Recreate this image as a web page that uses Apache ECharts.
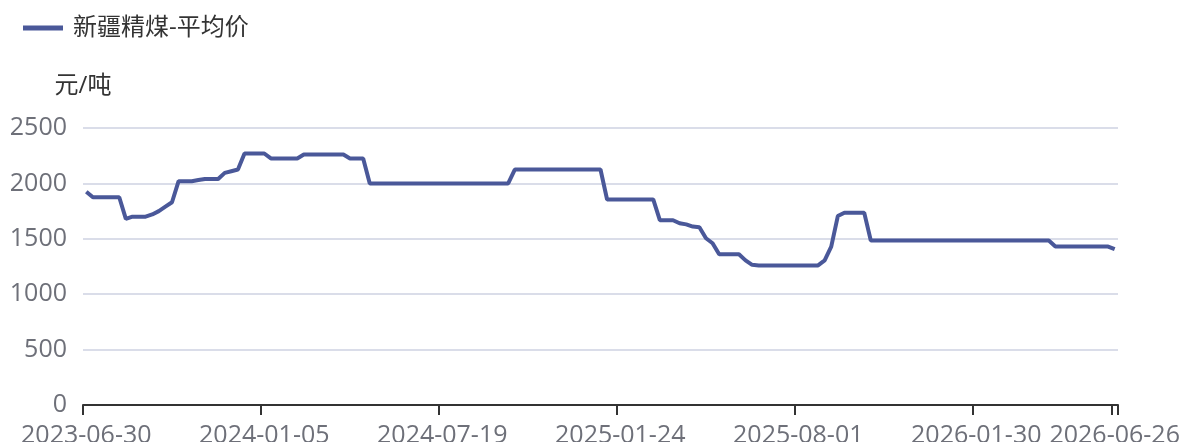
<!DOCTYPE html>
<html>
<head>
<meta charset="utf-8">
<title>新疆精煤-平均价</title>
<script src="https://cdn.jsdelivr.net/npm/echarts@6.0.0/dist/echarts.min.js"></script>
<style>
  html, body { margin: 0; padding: 0; background: #fff; }
  #chart { width: 1184px; height: 442px; }
</style>
</head>
<body>
<div id="chart"></div>
<script>
// 周度日期
const dates = [
  '2023-06-30', '2023-07-07', '2023-07-14', '2023-07-21', '2023-07-28', '2023-08-04', '2023-08-11', '2023-08-18', '2023-08-25',
  '2023-09-01', '2023-09-08', '2023-09-15', '2023-09-22', '2023-09-29', '2023-10-06', '2023-10-13', '2023-10-20', '2023-10-27',
  '2023-11-03', '2023-11-10', '2023-11-17', '2023-11-24', '2023-12-01', '2023-12-08', '2023-12-15', '2023-12-22', '2023-12-29',
  '2024-01-05', '2024-01-12', '2024-01-19', '2024-01-26', '2024-02-02', '2024-02-09', '2024-02-23', '2024-03-01', '2024-03-08',
  '2024-03-15', '2024-03-22', '2024-03-29', '2024-04-05', '2024-04-12', '2024-04-19', '2024-04-26', '2024-05-03', '2024-05-10',
  '2024-05-17', '2024-05-24', '2024-05-31', '2024-06-07', '2024-06-14', '2024-06-21', '2024-06-28', '2024-07-05', '2024-07-12',
  '2024-07-19', '2024-07-26', '2024-08-02', '2024-08-09', '2024-08-16', '2024-08-23', '2024-08-30', '2024-09-06', '2024-09-13',
  '2024-09-20', '2024-09-27', '2024-10-04', '2024-10-11', '2024-10-18', '2024-10-25', '2024-11-01', '2024-11-08', '2024-11-15',
  '2024-11-22', '2024-11-29', '2024-12-06', '2024-12-13', '2024-12-20', '2024-12-27', '2025-01-03', '2025-01-10', '2025-01-17',
  '2025-01-24', '2025-01-31', '2025-02-07', '2025-02-14', '2025-02-21', '2025-02-28', '2025-03-07', '2025-03-14', '2025-03-21',
  '2025-03-28', '2025-04-04', '2025-04-11', '2025-04-18', '2025-04-25', '2025-05-02', '2025-05-09', '2025-05-16', '2025-05-23',
  '2025-05-30', '2025-06-06', '2025-06-13', '2025-06-20', '2025-06-27', '2025-07-04', '2025-07-11', '2025-07-18', '2025-07-25',
  '2025-08-01', '2025-08-08', '2025-08-15', '2025-08-22', '2025-08-29', '2025-09-05', '2025-09-12', '2025-09-19', '2025-09-26',
  '2025-10-03', '2025-10-10', '2025-10-17', '2025-10-24', '2025-10-31', '2025-11-07', '2025-11-14', '2025-11-21', '2025-11-28',
  '2025-12-05', '2025-12-12', '2025-12-19', '2025-12-26', '2025-12-31', '2026-01-02', '2026-01-09', '2026-01-16', '2026-01-23',
  '2026-01-30', '2026-02-06', '2026-02-13', '2026-02-20', '2026-02-27', '2026-03-06', '2026-03-13', '2026-03-20', '2026-03-27',
  '2026-04-03', '2026-04-10', '2026-04-17', '2026-04-24', '2026-05-01', '2026-05-08', '2026-05-15', '2026-05-22', '2026-05-29',
  '2026-06-05', '2026-06-12', '2026-06-19', '2026-06-26'
]

// 新疆精煤 平均价 (元/吨)
const avgPrice = [
  1925, 1875, 1875, 1875, 1875, 1875, 1680, 1700, 1700, 1700,
  1720, 1750, 1790, 1830, 2020, 2020, 2020, 2030, 2040, 2040,
  2040, 2095, 2110, 2125, 2270, 2270, 2270, 2270, 2225, 2225,
  2225, 2225, 2225, 2260, 2260, 2260, 2260, 2260, 2260, 2260,
  2225, 2225, 2225, 2000, 2000, 2000, 2000, 2000, 2000, 2000,
  2000, 2000, 2000, 2000, 2000, 2000, 2000, 2000, 2000, 2000,
  2000, 2000, 2000, 2000, 2000, 2125, 2125, 2125, 2125, 2125,
  2125, 2125, 2125, 2125, 2125, 2125, 2125, 2125, 2125, 1855,
  1855, 1855, 1855, 1855, 1855, 1855, 1855, 1668, 1668, 1668,
  1640, 1630, 1610, 1604, 1505, 1460, 1360, 1360, 1360, 1360,
  1305, 1265, 1260, 1260, 1260, 1260, 1260, 1260, 1260, 1260,
  1260, 1260, 1305, 1430, 1705, 1736, 1736, 1736, 1736, 1484,
  1484, 1484, 1484, 1484, 1484, 1484, 1484, 1484, 1484, 1484,
  1484, 1484, 1484, 1484, 1484, 1484, 1484, 1484, 1484, 1484,
  1484, 1484, 1484, 1484, 1484, 1484, 1484, 1430, 1430, 1430,
  1430, 1430, 1430, 1430, 1430, 1430, 1406
]

// x 轴显示的日期
const xTickLabels = ['2023-06-30', '2024-01-05', '2024-07-19', '2025-01-24', '2025-08-01', '2026-01-30', '2026-06-26']
// y 轴刻度
const yTicks = [0, 500, 1000, 1500, 2000, 2500]

const font = '"Open Sans", "Noto Sans CJK SC", sans-serif'
const showLabel = (idx, val) => xTickLabels.includes(val)

const chart = echarts.init(document.getElementById('chart'))

const option = {
  animation: false,
  legend: {
    left: 23,
    top: 16,
    padding: 0,
    icon: 'rect',
    itemWidth: 40,
    itemHeight: 5,
    itemGap: 20,
    textStyle: { fontSize: 24, color: '#333', fontFamily: font, padding: [0, 0, 0, 5] },
    data: ['新疆精煤-平均价']
  },
  grid: {
    left: 83,
    right: 66,
    top: 128,
    bottom: 37,
    containLabel: false,
    outerBoundsMode: 'none'
  },
  xAxis: {
    type: 'category',
    data: dates,
    axisLine: { show: true, lineStyle: { color: '#333', width: 2 } },
    axisTick: {
      show: true,
      interval: showLabel,
      length: 10,
      lineStyle: { color: '#333', width: 2 }
    },
    axisLabel: {
      interval: showLabel,
      margin: 18,
      fontSize: 25,
      color: '#6e7079',
      fontFamily: font
    }
  },
  yAxis: {
    type: 'value',
    name: '元/吨',
    nameGap: 30,
    nameTextStyle: { fontSize: 24, color: '#333', fontFamily: font },
    min: yTicks[0],
    max: yTicks[yTicks.length - 1],
    interval: yTicks[1] - yTicks[0],
    axisLine: { show: false },
    axisTick: { show: false },
    axisLabel: {
      margin: 16,
      fontSize: 25,
      color: '#6e7079',
      fontFamily: font,
      formatter: (v) => String(v)
    },
    splitLine: { lineStyle: { color: '#dadde9', width: 2 } }
  },
  series: [
    {
      name: '新疆精煤-平均价',
      type: 'line',
      data: avgPrice,
      showSymbol: false,
      symbol: 'none',
      itemStyle: { color: '#4a5899' },
      lineStyle: { width: 4, color: '#4a5899' }
    }
  ]
}

chart.setOption(option)
</script>
</body>
</html>
